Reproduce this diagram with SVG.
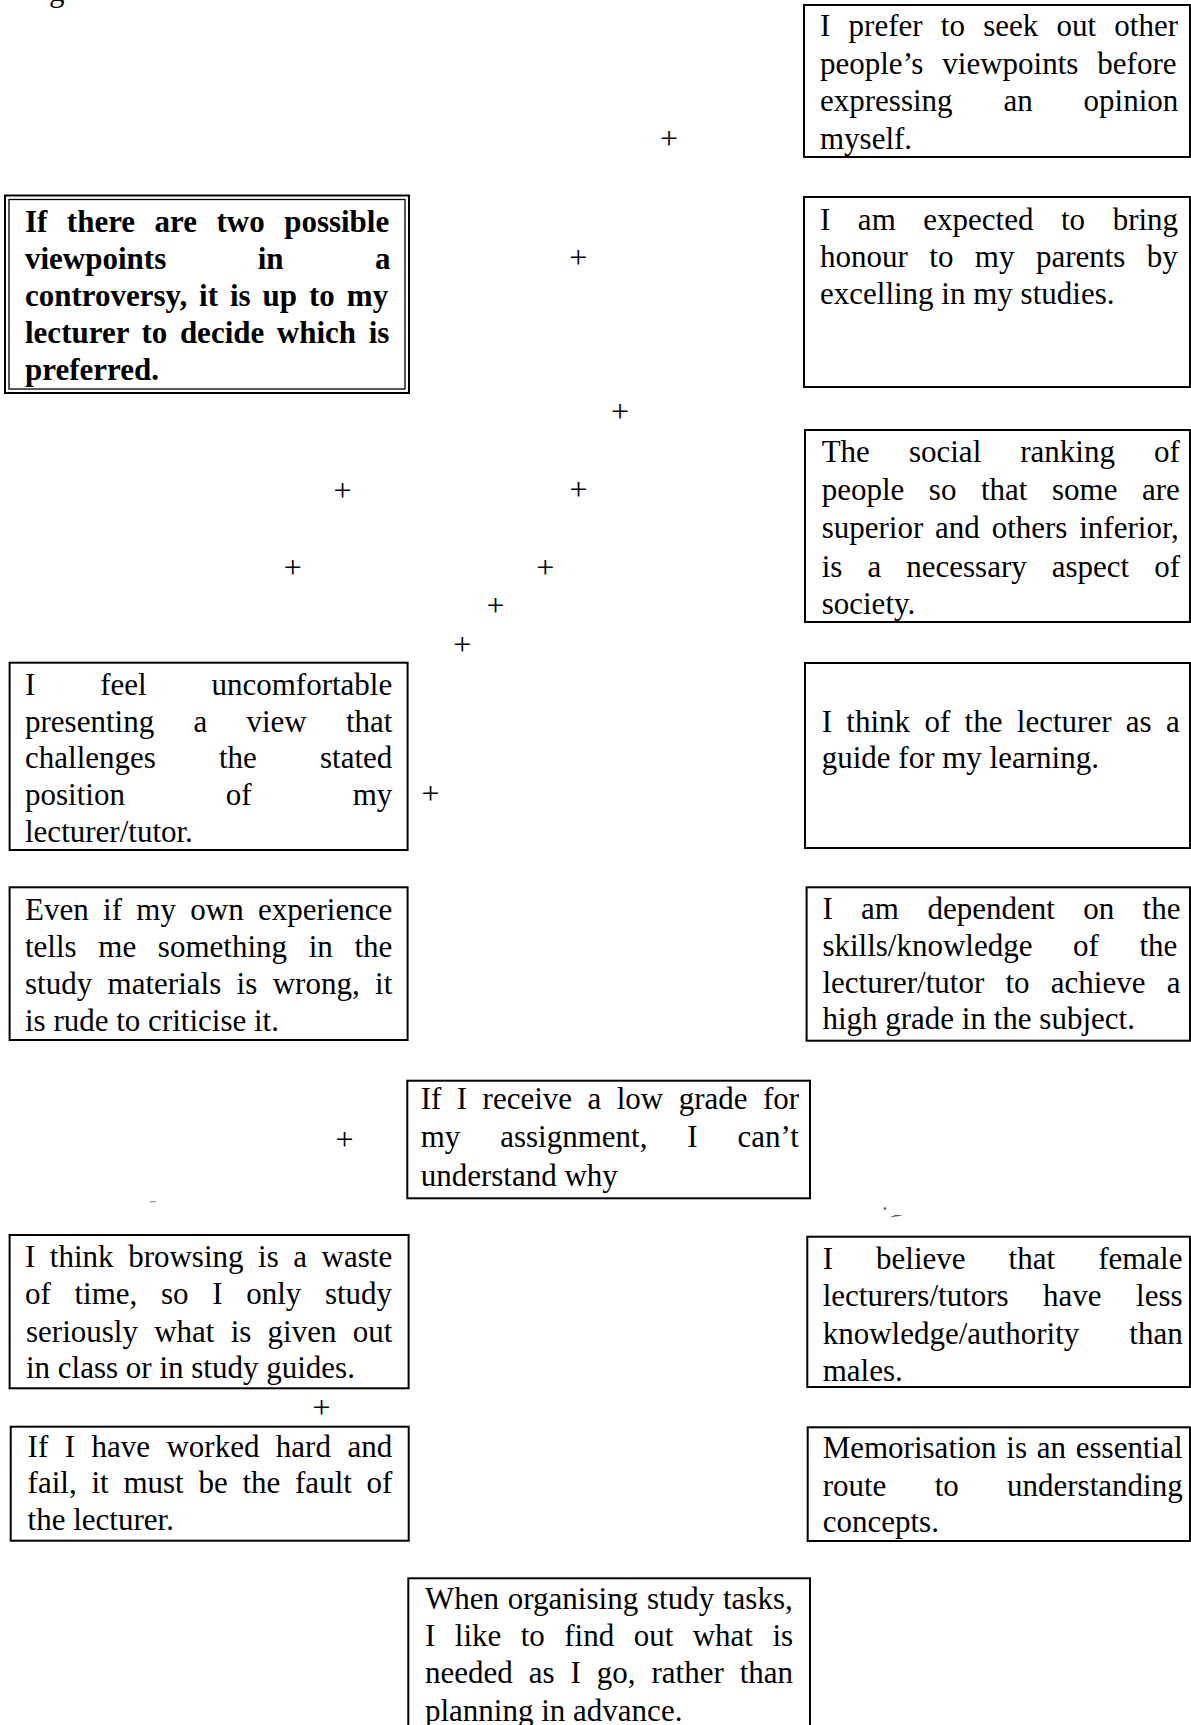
<svg xmlns="http://www.w3.org/2000/svg" width="1191" height="1725" viewBox="0 0 1191 1725">
  <style>
    .t { font-family: "Liberation Serif", "Times New Roman", serif; font-size: 31px; fill: #000; }
    .b { font-weight: bold; }
    .box { fill: #fff; stroke: #000; stroke-width: 2; }
    .thin { fill: none; stroke: #000; stroke-width: 1.3; }
    .plus { font-family: "Liberation Serif", "Times New Roman", serif; font-size: 32px; text-anchor: middle; fill: #000; }
  </style>
  <rect width="1191" height="1725" fill="#fff"/>

  <!-- tail of the caption line above the figure -->
  <text class="t" x="49" y="0.5">g</text>

  <!-- left column; justified lines get their own word-spacing -->
  <g id="node-lecturer-decides">
    <rect class="box" x="5" y="195.5" width="404" height="197.5"/>
    <rect class="thin" x="9" y="199.5" width="396" height="189.5"/>
    <text class="t b" x="25" y="232" word-spacing="11.7">If there are two possible</text>
    <text class="t b" x="25" y="269" word-spacing="83.7">viewpoints in a</text>
    <text class="t b" x="25" y="306" word-spacing="4.2">controversy, it is up to my</text>
    <text class="t b" x="25" y="343" word-spacing="4.85">lecturer to decide which is</text>
    <text class="t b" x="25" y="380">preferred.</text>
  </g>

  <g id="node-uncomfortable">
    <rect class="box" x="9.6" y="662.7" width="398" height="187.3"/>
    <text class="t" x="25" y="695" word-spacing="57.1">I feel uncomfortable</text>
    <text class="t" x="25" y="731.7" word-spacing="31.5">presenting a view that</text>
    <text class="t" x="25" y="768.3" word-spacing="55.4">challenges the stated</text>
    <text class="t" x="25" y="805" word-spacing="93.2">position of my</text>
    <text class="t" x="25" y="841.7">lecturer/tutor.</text>
  </g>

  <g id="node-rude-to-criticise">
    <rect class="box" x="9.6" y="887.3" width="398" height="152.7"/>
    <text class="t" x="25" y="920" word-spacing="6.6">Even if my own experience</text>
    <text class="t" x="25" y="957" word-spacing="13.9">tells me something in the</text>
    <text class="t" x="25" y="994" word-spacing="7.65">study materials is wrong, it</text>
    <text class="t" x="25" y="1030.5">is rude to criticise it.</text>
  </g>

  <g id="node-browsing">
    <rect class="box" x="9.6" y="1235" width="399" height="153.3"/>
    <text class="t" x="25" y="1267" word-spacing="6.8">I think browsing is a waste</text>
    <text class="t" x="25" y="1304" word-spacing="15.9">of time, so I only study</text>
    <text class="t" x="26" y="1341.5" word-spacing="8.5">seriously what is given out</text>
    <text class="t" x="26" y="1378">in class or in study guides.</text>
  </g>

  <g id="node-fault-of-lecturer">
    <rect class="box" x="10.7" y="1426.7" width="398" height="114"/>
    <text class="t" x="27.6" y="1456.7" word-spacing="8.7">If I have worked hard and</text>
    <text class="t" x="27.6" y="1493.3" word-spacing="7">fail, it must be the fault of</text>
    <text class="t" x="27.6" y="1530">the lecturer.</text>
  </g>

  <!-- middle column -->
  <g id="node-low-grade">
    <rect class="box" x="407.3" y="1080.7" width="402.7" height="117.6"/>
    <text class="t" x="420.7" y="1108.5" word-spacing="7.7">If I receive a low grade for</text>
    <text class="t" x="420.7" y="1147" word-spacing="32.1">my assignment, I can’t</text>
    <text class="t" x="420.7" y="1185.5">understand why</text>
  </g>

  <g id="node-organising-tasks">
    <rect class="box" x="408.3" y="1578.3" width="401.7" height="200"/>
    <text class="t" x="425" y="1609" word-spacing="1.07">When organising study tasks,</text>
    <text class="t" x="425" y="1646" word-spacing="11.7">I like to find out what is</text>
    <text class="t" x="425" y="1683" word-spacing="8.2">needed as I go, rather than</text>
    <text class="t" x="425" y="1721">planning in advance.</text>
  </g>

  <!-- right column -->
  <g id="node-other-viewpoints">
    <rect class="box" x="804" y="5" width="386" height="152"/>
    <text class="t" x="820" y="36" word-spacing="10.5">I prefer to seek out other</text>
    <text class="t" x="820" y="73.5" word-spacing="11.25">people’s viewpoints before</text>
    <text class="t" x="820" y="111" word-spacing="43.1">expressing an opinion</text>
    <text class="t" x="820" y="148.5">myself.</text>
  </g>

  <g id="node-honour-parents">
    <rect class="box" x="804" y="197" width="386" height="190"/>
    <text class="t" x="820" y="230" word-spacing="19.8">I am expected to bring</text>
    <text class="t" x="820" y="267" word-spacing="13.7">honour to my parents by</text>
    <text class="t" x="820" y="304">excelling in my studies.</text>
  </g>

  <g id="node-social-ranking">
    <rect class="box" x="805" y="430" width="385" height="192"/>
    <text class="t" x="821.7" y="461.5" word-spacing="31.3">The social ranking of</text>
    <text class="t" x="821.7" y="499.5" word-spacing="16.8">people so that some are</text>
    <text class="t" x="821.7" y="538" word-spacing="4.07">superior and others inferior,</text>
    <text class="t" x="821.7" y="576.5" word-spacing="17.3">is a necessary aspect of</text>
    <text class="t" x="821.7" y="613.5">society.</text>
  </g>

  <g id="node-lecturer-guide">
    <rect class="box" x="805" y="663" width="385" height="185"/>
    <text class="t" x="821.7" y="731.7" word-spacing="6.6">I think of the lecturer as a</text>
    <text class="t" x="821.7" y="768.3">guide for my learning.</text>
  </g>

  <g id="node-dependent-skills">
    <rect class="box" x="806.6" y="887.3" width="383.4" height="153.4"/>
    <text class="t" x="822.4" y="919.3" word-spacing="20.65">I am dependent on the</text>
    <text class="t" x="822.4" y="956" word-spacing="32.8">skills/knowledge of the</text>
    <text class="t" x="822.4" y="992.7" word-spacing="13.5">lecturer/tutor to achieve a</text>
    <text class="t" x="822.4" y="1029.3">high grade in the subject.</text>
  </g>

  <g id="node-female-lecturers">
    <rect class="box" x="807.3" y="1236.7" width="382.7" height="150.3"/>
    <text class="t" x="822.7" y="1268.5" word-spacing="35.3">I believe that female</text>
    <text class="t" x="822.7" y="1306" word-spacing="26.7">lecturers/tutors have less</text>
    <text class="t" x="822.7" y="1343.5" word-spacing="42.3">knowledge/authority than</text>
    <text class="t" x="822.7" y="1380.5">males.</text>
  </g>

  <g id="node-memorisation">
    <rect class="box" x="807.7" y="1427.3" width="382.3" height="113.7"/>
    <text class="t" x="822.7" y="1458" word-spacing="2">Memorisation is an essential</text>
    <text class="t" x="822.7" y="1496" word-spacing="40.5">route to understanding</text>
    <text class="t" x="822.7" y="1532">concepts.</text>
  </g>

  <!-- plus marks scattered between the statements -->
  <g id="marks">
    <text class="plus" x="669" y="149">+</text>
    <text class="plus" x="578.3" y="268">+</text>
    <text class="plus" x="620" y="422.3">+</text>
    <text class="plus" x="342.5" y="501">+</text>
    <text class="plus" x="578.6" y="499.6">+</text>
    <text class="plus" x="292.8" y="577.5">+</text>
    <text class="plus" x="545.3" y="577.8">+</text>
    <text class="plus" x="495.6" y="615.6">+</text>
    <text class="plus" x="462.3" y="654.6">+</text>
    <text class="plus" x="430.5" y="804">+</text>
    <text class="plus" x="344.4" y="1149.6">+</text>
    <text class="plus" x="321.5" y="1418">+</text>
  </g>

  <!-- stray specks -->
  <g id="specks" fill="#555" stroke="none">
    <rect x="150" y="1201" width="6" height="1.3" fill="#999"/>
    <circle cx="885" cy="1208.5" r="1.3"/>
    <path d="M889 1217.5 L896 1214.8 L903 1215.6 L896 1216.6 Z"/>
  </g>
</svg>
